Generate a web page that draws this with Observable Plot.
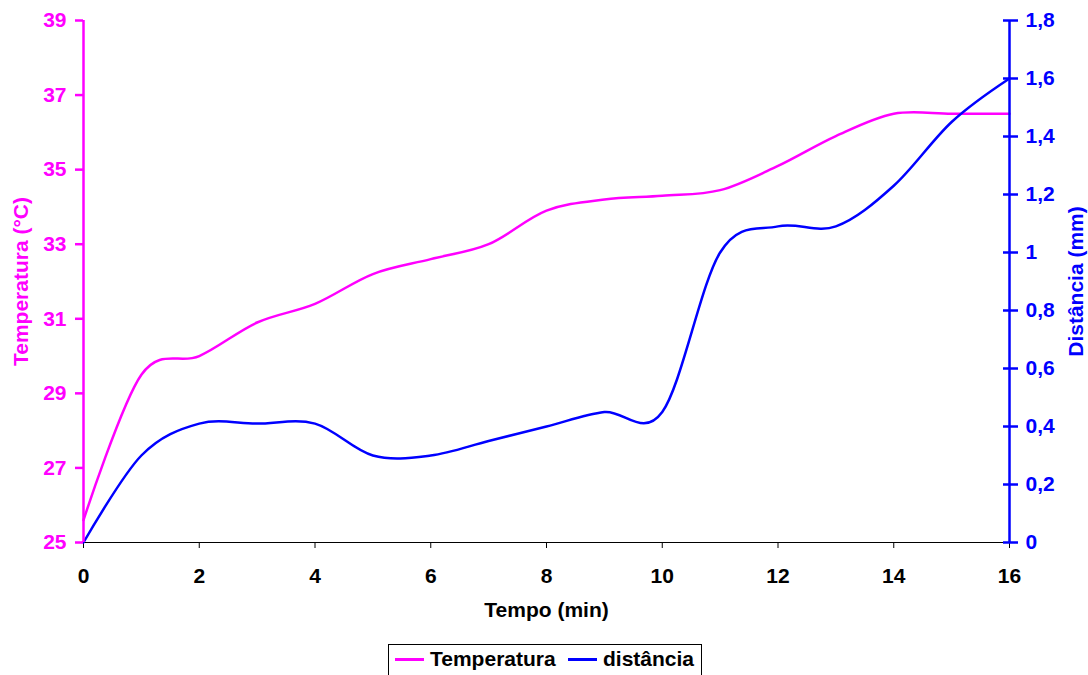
<!DOCTYPE html>
<html>
<head>
<meta charset="utf-8">
<script src="https://cdn.jsdelivr.net/npm/d3@7"></script>
<script src="https://cdn.jsdelivr.net/npm/@observablehq/plot@0.6"></script>
<style>
  html, body { margin: 0; padding: 0; background: #fff; }
  body { font-family: "Liberation Sans", Arial, sans-serif; }
  #wrap { position: relative; width: 1088px; height: 675px; overflow: hidden; }
  #legend { position: absolute; left: 388px; top: 644px; width: 314px; height: 40px;
            border: 1px solid #000; box-sizing: border-box; font-weight: bold; font-size: 21px; color: #000; }
  #legend .sw { position: absolute; height: 2.5px; top: 13px; width: 29px; }
  #legend .lb { position: absolute; top: 2px; line-height: 24px; white-space: nowrap; }
</style>
</head>
<body>
<div id="wrap">
  <div id="chart"></div>
  <div id="legend"></div>
</div>
<script>
// ---- data ----
const minutes = [0, 1, 2, 3, 4, 5, 6, 7, 8, 9, 10, 11, 12, 13, 14, 15, 16];
const temperatura = [25.6, 29.5, 30.0, 30.9, 31.4, 32.2, 32.6, 33.0, 33.9, 34.2, 34.3, 34.45, 35.1, 35.9, 36.5, 36.5, 36.5];
const distancia = [0, 0.30, 0.41, 0.41, 0.41, 0.30, 0.30, 0.35, 0.40, 0.45, 0.45, 1.0, 1.09, 1.09, 1.23, 1.45, 1.60];
const xTicks = [0, 2, 4, 6, 8, 10, 12, 14, 16];
const tempTicks = [25, 27, 29, 31, 33, 35, 37, 39];
const distTicks = [0, 0.2, 0.4, 0.6, 0.8, 1.0, 1.2, 1.4, 1.6, 1.8];
const seriesNames = ["Temperatura", "distância"];
const seriesColors = ["#FF00FF", "#0000FF"];
const xLabel = "Tempo (min)";
const yLeftLabel = "Temperatura (°C)";
const yRightLabel = "Distância (mm)";

// ---- dual axis mapping ----
const T0 = 25, T1 = 39, D0 = 0, D1 = 1.8;
const k = (T1 - T0) / (D1 - D0);
const toT = d => T0 + (d - D0) * k;
const fromT = t => D0 + (t - T0) / k;
const fmtComma = v => String(Math.round(v * 10) / 10).replace(".", ",");

const data = minutes.map((m, i) => ({m, t: temperatura[i], d: distancia[i]}));

const chart = Plot.plot({
  width: 1088,
  height: 675,
  marginLeft: 83,
  marginRight: 79,
  marginTop: 20,
  marginBottom: 133,
  style: {fontFamily: "'Liberation Sans', Arial, sans-serif", fontSize: "21px", fontWeight: "bold", background: "white", overflow: "visible"},
  x: {domain: [0, 16]},
  y: {domain: [T0, T1]},
  marks: [
    Plot.ruleY([T0], {stroke: "#000", strokeWidth: 1}),
    Plot.axisX({ticks: xTicks, tickSize: 6, tickPadding: 20, label: null, stroke: "#000", fill: "#000", fontSize: 21, fontWeight: "bold", strokeWidth: 1}),
    Plot.line(data, {x: "m", y: "t", stroke: seriesColors[0], strokeWidth: 2.5, curve: "cardinal", tension: 0}),
    Plot.line(data, {x: "m", y: d => toT(d.d), stroke: seriesColors[1], strokeWidth: 2.5, curve: "cardinal", tension: 0}),
    Plot.ruleX([0], {stroke: seriesColors[0], strokeWidth: 2.5}),
    Plot.ruleX([16], {stroke: seriesColors[1], strokeWidth: 2.5}),
    Plot.axisY({ticks: tempTicks, anchor: "left", tickSize: 8, tickPadding: 9, label: null, stroke: seriesColors[0], fill: seriesColors[0], strokeWidth: 2.5, fontSize: 21, fontWeight: "bold", tickFormat: d => String(d)}),
    Plot.axisY({ticks: distTicks.map(toT), anchor: "right", tickSize: 15, dx: -7, tickPadding: 0, label: null, stroke: seriesColors[1], strokeWidth: 2.5, tickFormat: () => ""}),
    Plot.axisY({ticks: distTicks.map(toT), anchor: "right", tickSize: 0, tickPadding: 16, label: null, fill: seriesColors[1], stroke: "none", fontSize: 21, fontWeight: "bold", tickFormat: v => fmtComma(fromT(v))}),
    Plot.text([yLeftLabel], {frameAnchor: "left", textAnchor: "middle", lineAnchor: "middle", dx: -62, rotate: -90, fill: seriesColors[0], fontSize: 21, fontWeight: "bold"}),
    Plot.text([yRightLabel], {frameAnchor: "right", textAnchor: "middle", lineAnchor: "middle", dx: 67, rotate: -90, fill: seriesColors[1], fontSize: 21, fontWeight: "bold"}),
    Plot.text([xLabel], {frameAnchor: "bottom", textAnchor: "middle", lineAnchor: "middle", dy: 68, fill: "#000", fontSize: 21, fontWeight: "bold"})
  ]
});
document.getElementById("chart").appendChild(chart);

// ---- legend ----
const legend = document.getElementById("legend");
const swLeft = [6, 179];
const lbLeft = [41, 214];
seriesNames.forEach((name, i) => {
  const sw = document.createElement("div");
  sw.className = "sw";
  sw.style.left = swLeft[i] + "px";
  sw.style.background = seriesColors[i];
  legend.appendChild(sw);
  const lb = document.createElement("div");
  lb.className = "lb";
  lb.style.left = lbLeft[i] + "px";
  lb.textContent = name;
  legend.appendChild(lb);
});
</script>
</body>
</html>
